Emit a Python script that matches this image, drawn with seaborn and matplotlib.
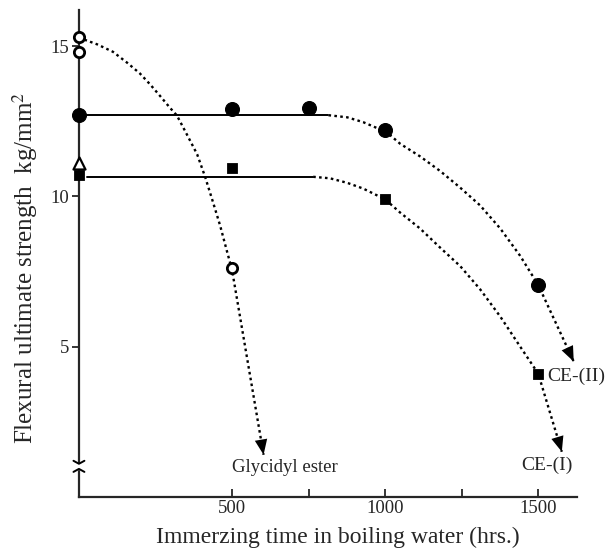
import numpy as np
import pandas as pd
import matplotlib
matplotlib.use("Agg")
import matplotlib.pyplot as plt
import seaborn as sns
from matplotlib.patches import FancyArrowPatch

# Measured flexural strength (kg/mm^2) versus immersion time (hrs.)
ge_hours = [0, 0, 500]
ge_strength = [15.3, 14.8, 7.6]

ce2_hours = [0, 500, 750, 1000, 1500]
ce2_strength = [12.7, 12.9, 12.95, 12.2, 7.05]

ce1_hours = [0, 500, 1000, 1500]
ce1_strength = [10.7, 10.95, 9.9, 4.1]

tri_hours = [0]
tri_strength = [11.1]

# Plateau levels of the two CE resins
ce2_level = 12.7
ce1_level = 10.65
ce2_plateau_x = [20, 815]
ce1_plateau_x = [26, 765]

# Hand-drawn trend curves (dotted), each ending in an arrow
ge_curve_x = [0, 59, 111, 157, 199, 232, 265, 297, 320, 353, 386, 412,
              438, 461, 484, 500, 603]
ge_curve_y = [15.28, 15.06, 14.81, 14.45, 14.09, 13.73, 13.34, 12.95, 12.69,
              12.05, 11.40, 10.65, 9.80, 9.03, 8.15, 7.55, 1.4]

ce2_curve_x = [815, 876, 928, 974, 1000, 1049, 1114, 1180, 1245, 1310,
               1376, 1441, 1500, 1616]
ce2_curve_y = [12.7, 12.63, 12.47, 12.27, 12.18, 11.75, 11.33, 10.84, 10.29,
               9.70, 8.93, 8.02, 7.05, 4.5]

ce1_curve_x = [765, 820, 876, 928, 1000, 1049, 1114, 1180, 1245, 1310,
               1376, 1441, 1500, 1577]
ce1_curve_y = [10.65, 10.6, 10.45, 10.26, 9.9, 9.46, 8.93, 8.29, 7.68, 6.91,
               6.0, 5.0, 4.1, 1.5]

x_major = [500, 1000, 1500]
x_minor = [750, 1250]
y_major = [5, 10, 15]

sns.set_style("ticks")
plt.rcParams["font.family"] = ["Liberation Serif", "DejaVu Serif"]
plt.rcParams["mathtext.fontset"] = "stix"

fig = plt.figure(figsize=(6.12, 5.57), dpi=100)
ax = fig.add_axes([0.129, 0.108, 0.814, 0.874])


def curve(xs, ys):
    d = pd.DataFrame({"x": xs, "y": ys})
    sns.lineplot(data=d, x="x", y="y", sort=False, estimator=None, ax=ax,
                 color="black", lw=1.7, linestyle=(0, (1.1, 1.4)))
    # arrowhead on the last segment
    arr = FancyArrowPatch((xs[-2], ys[-2]), (xs[-1], ys[-1]),
                          arrowstyle="-|>,head_length=11,head_width=4.5",
                          color="black", lw=0, mutation_scale=1,
                          shrinkA=0, shrinkB=0)
    ax.add_patch(arr)


curve(ge_curve_x, ge_curve_y)
curve(ce2_curve_x, ce2_curve_y)
curve(ce1_curve_x, ce1_curve_y)

for px, lvl in [(ce2_plateau_x, ce2_level), (ce1_plateau_x, ce1_level)]:
    sns.lineplot(x=px, y=[lvl, lvl], ax=ax, color="black", lw=1.4)

sns.scatterplot(x=ce2_hours, y=ce2_strength, ax=ax, marker="o", s=100,
                color="black", edgecolor="black", zorder=5, clip_on=False)
sns.scatterplot(x=ce1_hours, y=ce1_strength, ax=ax, marker="s", s=55,
                color="black", edgecolor="black", zorder=5, clip_on=False)
sns.scatterplot(x=ge_hours, y=ge_strength, ax=ax, marker="o", s=55,
                facecolor="white", edgecolor="black", linewidth=2,
                zorder=6, clip_on=False)
sns.scatterplot(x=tri_hours, y=tri_strength, ax=ax, marker="^", s=75,
                facecolor="white", edgecolor="black", linewidth=1.6,
                zorder=6, clip_on=False)

ax.text(500, 0.96, "Glycidyl ester", ha="left", va="center", fontsize=13.5)
ax.text(1528, 4.0, "CE-(II)", ha="left", va="center", fontsize=14)
ax.text(1530, 1.05, "CE-(I)", ha="center", va="center", fontsize=14)

ax.set_xlim(0, 1627)
ax.set_ylim(0, 16.2)
ax.set_xticks(x_major)
ax.set_xticks(x_minor, minor=True)
ax.set_yticks(y_major)
ax.tick_params(axis="x", which="both", direction="in", length=6, width=1.3,
               labelsize=13.5, pad=2)
ax.tick_params(axis="y", direction="out", length=5, width=1.3,
               labelsize=13.5, pad=2)
for s in ["top", "right"]:
    ax.spines[s].set_visible(False)
for s in ["left", "bottom"]:
    ax.spines[s].set_linewidth(1.6)

ax.set_xlabel("Immerzing time in boiling water (hrs.)", fontsize=17)
ax.xaxis.set_label_coords(0.52, -0.062)
ax.set_ylabel("Flexural ultimate strength  kg/mm$^2$", fontsize=18)
ax.yaxis.set_label_coords(-0.078, 0.47)

# axis break mark on the strength axis
trans = ax.get_yaxis_transform()
ax.fill_between([-0.01, 0.01], 0.93, 1.10, transform=trans, color="white",
                zorder=10, clip_on=False)
ax.plot([-0.011, 0, 0.011], [1.2, 1.10, 1.2], transform=trans,
        color="black", lw=1.4, clip_on=False, zorder=11)
ax.plot([-0.011, 0, 0.011], [0.83, 0.93, 0.83], transform=trans,
        color="black", lw=1.4, clip_on=False, zorder=11)

fig.savefig("out.png", dpi=100)
